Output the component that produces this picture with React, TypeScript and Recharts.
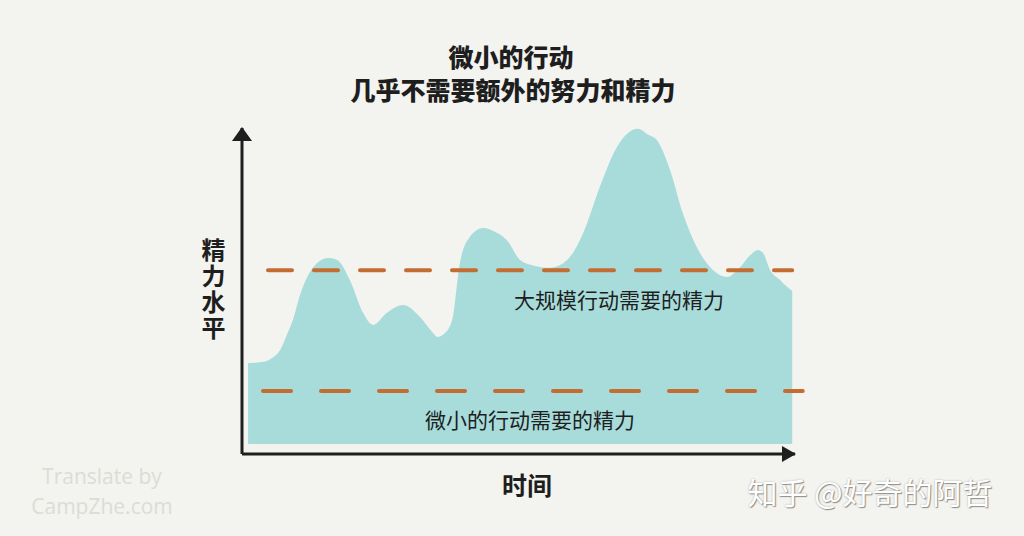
import React from "react";
import { ComposedChart, Area, XAxis, YAxis, ReferenceLine } from "recharts";

// time (0-100) and energy level (0-100)
const TIME = [
  1.1, 3.6, 5.4, 6.9, 8.1, 9.2, 10.5, 11.8, 13.6, 15.6, 17.2, 19.5, 21.9, 23.7,
  26.2, 29.1, 32.2, 34.4, 35.3, 36.7, 38.0, 39.4, 41.2, 43.6, 45.8, 47.9, 50.3,
  53.0, 55.7, 58.8, 61.7, 64.7, 67.8, 69.8, 71.6, 73.4, 75.0, 77.4, 79.7, 82.8,
  85.2, 87.7, 90.1, 91.9, 93.3, 94.2, 95.5, 97.3, 98.4, 99.5,
];
const ENERGY = [
  27.9, 28.2, 29.4, 31.9, 36.5, 41.1, 48.8, 54.3, 58.6, 60.1, 59.5, 53.4, 43.3,
  39.6, 43.3, 45.7, 42.0, 37.4, 35.9, 37.1, 41.1, 58.6, 66.6, 69.3, 68.1, 65.6,
  59.5, 57.7, 57.1, 59.5, 67.8, 81.9, 94.2, 98.5, 99.8, 98.0, 96.3, 87.1, 73.9,
  61.7, 56.4, 54.3, 57.4, 61.0, 62.6, 61.7, 56.4, 53.4, 51.5, 50.0,
];
const BASE_LEVEL = 3.1;

const BIG_ACTION = 56.4;
const BIG_SPAN = [4.7, 99.5];
const SMALL_ACTION = 19.3;
const SMALL_SPAN = [3.8, 101.4];

const TITLE = ["微小的行动", "几乎不需要额外的努力和精力"];
const BIG_LABEL = "大规模行动需要的精力";
const SMALL_LABEL = "微小的行动需要的精力";
const Y_LABEL = "精力水平";
const X_LABEL = "时间";

const data = TIME.map((t, i) => ({ t, energy: ENERGY[i] }));

const CJK = '"Noto Sans CJK SC", "Noto Sans", sans-serif';
const BG = "#f3f3ef";
const TEAL = "#a7dcdb";
const ORANGE = "#c46d33";
const INK = "#1e1e1e";

const txt = (x: number, y: number, extra: React.CSSProperties = {}): React.CSSProperties => ({
  position: "absolute",
  left: x,
  top: y,
  transform: "translate(-50%, -50%)",
  whiteSpace: "nowrap",
  lineHeight: 1,
  fontFamily: CJK,
  ...extra,
});

export default function App() {
  return (
    <div style={{ position: "fixed", left: 0, top: 0, width: 1024, height: 536, background: BG, overflow: "hidden" }}>
      <ComposedChart
        width={1024}
        height={536}
        data={data}
        margin={{ top: 128, right: 229, left: 202, bottom: 52 }}
      >
        <defs>
          <marker id="arrowUp" markerUnits="userSpaceOnUse" markerWidth={14} markerHeight={20}
            viewBox="0 0 14 20" refX={13} refY={10} orient="auto-start-reverse">
            <path d="M0,0 L14,10 L0,20 Z" fill={INK} />
          </marker>
          <marker id="arrowRight" markerUnits="userSpaceOnUse" markerWidth={14} markerHeight={16}
            viewBox="0 0 14 16" refX={13} refY={8} orient="auto">
            <path d="M0,0 L14,8 L0,16 Z" fill={INK} />
          </marker>
        </defs>
        <XAxis
          dataKey="t"
          type="number"
          domain={[0, 100]}
          height={30}
          tick={false}
          tickLine={false}
          axisLine={{ stroke: INK, strokeWidth: 3, markerEnd: "url(#arrowRight)" }}
        />
        <YAxis
          type="number"
          domain={[0, 100]}
          width={40}
          tick={false}
          tickLine={false}
          axisLine={{ stroke: INK, strokeWidth: 3, markerStart: "url(#arrowUp)" }}
        />
        <Area
          type="monotone"
          dataKey="energy"
          baseValue={BASE_LEVEL}
          stroke="none"
          fill={TEAL}
          fillOpacity={1}
          dot={false}
          activeDot={false}
          isAnimationActive={false}
        />
        <ReferenceLine
          segment={[{ x: BIG_SPAN[0], y: BIG_ACTION }, { x: BIG_SPAN[1], y: BIG_ACTION }]}
          stroke={ORANGE}
          strokeWidth={4}
          strokeLinecap="round"
          strokeDasharray="24 22"
          ifOverflow="visible"
        />
        <ReferenceLine
          segment={[{ x: SMALL_SPAN[0], y: SMALL_ACTION }, { x: SMALL_SPAN[1], y: SMALL_ACTION }]}
          stroke={ORANGE}
          strokeWidth={4}
          strokeLinecap="round"
          strokeDasharray="28 30"
          ifOverflow="visible"
        />
      </ComposedChart>

      <div style={txt(511, 56, { fontSize: 25, fontWeight: 900, color: INK })}>{TITLE[0]}</div>
      <div style={txt(513, 89, { fontSize: 25, fontWeight: 900, color: INK })}>{TITLE[1]}</div>

      <div style={txt(619, 299, { fontSize: 21, color: INK })}>{BIG_LABEL}</div>
      <div style={txt(530, 419, { fontSize: 21, color: INK })}>{SMALL_LABEL}</div>

      <div style={txt(213, 290, { fontSize: 24, fontWeight: 700, color: INK, writingMode: "vertical-rl", letterSpacing: 2 })}>{Y_LABEL}</div>
      <div style={txt(527, 484, { fontSize: 25, fontWeight: 700, color: INK })}>{X_LABEL}</div>

      <div style={txt(102, 476, { fontSize: 21, color: "#dcdcd7", fontFamily: '"Open Sans", sans-serif' })}>Translate by</div>
      <div style={txt(102, 506, { fontSize: 21, color: "#dcdcd7", fontFamily: '"Open Sans", sans-serif' })}>CampZhe.com</div>

      <div style={txt(870, 491, { fontSize: 30, color: "#ffffff", textShadow: "1px 1px 1px #8e8e8a, 0 0 2px #b0b0ac" })}>知乎 @好奇的阿哲</div>
    </div>
  );
}
